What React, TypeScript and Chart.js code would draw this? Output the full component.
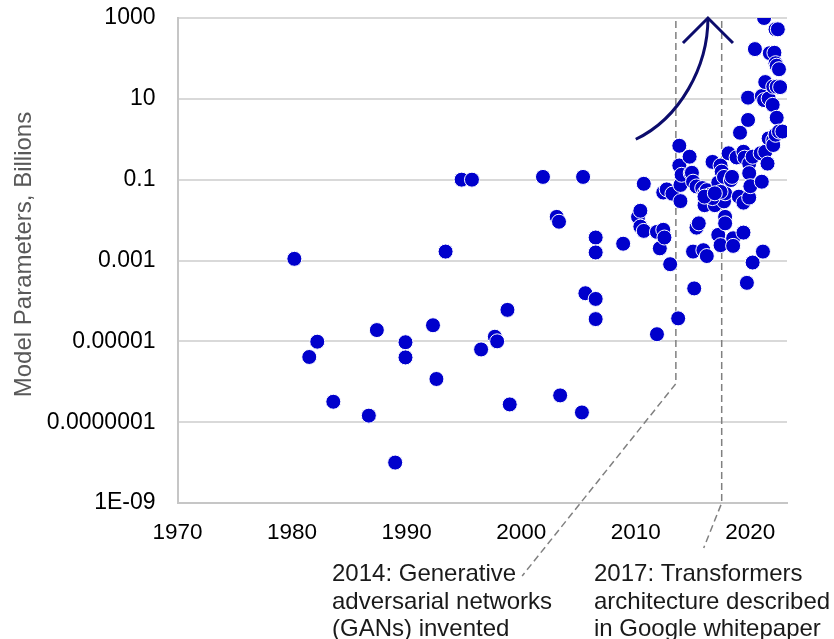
import React, { useEffect, useRef } from 'react';
import { Chart, registerables } from 'chart.js';

Chart.register(...registerables);

// ---- Data ----
const xTickValues = [1970, 1980, 1990, 2000, 2010, 2020];
const yTickValues = [1e-9, 1e-7, 1e-5, 1e-3, 0.1, 10, 1000];
const yTickLabels = ['1E-09', '0.0000001', '0.00001', '0.001', '0.1', '10', '1000'];
const yAxisTitle = 'Model Parameters, Billions';

const modelYears = [
  1980.2, 1981.5, 1982.2, 1983.6, 1986.7, 1987.4, 1989.0, 1989.9, 1989.9, 1992.3,
  1992.6, 1993.4, 1994.8, 1995.7, 1996.5, 1997.7, 1997.9, 1998.8, 1999.0, 2001.9,
  2003.1, 2003.3, 2003.4, 2005.3, 2005.4, 2005.6, 2006.5, 2006.5, 2006.5, 2006.5,
  2008.9, 2010.2, 2010.4, 2010.4, 2010.7, 2010.7, 2011.85, 2011.85, 2012.1, 2012.4,
  2012.5, 2012.4, 2012.7, 2013.0, 2013.2, 2013.7, 2013.8, 2013.8, 2013.9, 2013.9,
  2014.0, 2014.7, 2014.8, 2014.9, 2015.0, 2015.0, 2015.1, 2015.3, 2015.3, 2015.5,
  2015.8, 2015.9, 2016.0, 2016.0, 2016.2, 2016.2, 2016.5, 2016.7, 2016.9, 2017.2,
  2017.2, 2017.4, 2017.4, 2017.5, 2017.7, 2017.7, 2017.8, 2017.8, 2017.8, 2018.1,
  2018.3, 2018.4, 2018.5, 2018.5, 2018.8, 2019.0, 2019.1, 2019.4, 2019.4, 2019.4,
  2019.5, 2019.7, 2019.8, 2019.8, 2019.9, 2019.9, 2019.9, 2020.0, 2020.2, 2020.2,
  2020.4, 2020.9, 2021.0, 2021.0, 2021.1, 2021.2, 2021.2, 2021.3, 2021.3, 2021.5,
  2021.6, 2021.6, 2021.7, 2021.95, 2022.0, 2022.0, 2022.0, 2022.1, 2022.2, 2022.2,
  2022.2, 2022.3, 2022.3, 2022.3, 2022.4, 2022.5, 2022.5, 2022.6, 2022.8, 2016.7,
  2016.0, 2017.4, 2016.9,
];

const modelParams = [
  1.1e-3, 4.1e-6, 9.8e-6, 3.2e-7, 1.45e-7, 1.9e-5, 1e-8, 9.5e-6, 4.0e-6, 2.5e-5,
  1.17e-6, 1.66e-3, 0.1, 0.1, 6.3e-6, 1.3e-5, 1.0e-5, 6.0e-5, 2.75e-7, 0.117,
  0.012, 9.1e-3, 4.6e-7, 1.74e-7, 0.117, 1.55e-4, 3.7e-3, 1.58e-3, 1.12e-4, 3.55e-5,
  2.6e-3, 0.012, 0.017, 6.9e-3, 5.4e-3, 0.079, 5.1e-3, 1.5e-5, 2.0e-3, 5.75e-3,
  3.7e-3, 0.048, 0.0575, 8.1e-4, 0.045, 3.7e-5, 0.69, 0.224, 0.074, 0.0295,
  0.132, 0.37, 0.145, 0.148, 0.089, 1.66e-3, 2.04e-4, 0.068, 6.5e-3, 8.3e-3,
  0.062, 1.8e-3, 0.046, 0.0234, 0.055, 1.29e-3, 0.042, 0.275, 0.0234, 0.085,
  4.3e-3, 0.224, 2.4e-3, 0.158, 0.117, 0.029, 0.046, 0.012, 8.3e-3, 0.45,
  0.098, 0.117, 3.55e-3, 2.3e-3, 0.355, 0.038, 1.45, 0.49, 0.027, 4.9e-3,
  0.35, 2.8e-4, 10.7, 3.0, 0.25, 0.145, 0.036, 0.069, 0.37, 8.9e-4,
  170, 0.45, 11.7, 0.089, 1.66e-3, 1000, 9.3, 26, 0.49, 0.25,
  10.2, 1.05, 135, 7.1, 20, 0.95, 0.72, 138, 525, 76,
  1.29, 66, 20, 3.4, 525, 54, 1.55, 19.5, 1.55, 0.035,
  0.038, 0.05, 0.046,
];

// Annotations (data space where possible)
const ganLineYear = 2013.5;
const ganBendValue = 9e-7;
const transformerLineYear = 2017.5;
const ganNote = ['2014: Generative', 'adversarial networks', '(GANs) invented'];
const transformerNote = ['2017: Transformers', 'architecture described', 'in Google whitepaper'];
const arrowStartYear = 2010.0;
const arrowStartValue = 1.0;
const arrowTipYear = 2016.3;
const arrowTipValue = 1000;

const FONT_FAMILY = '"Liberation Sans", Arial, Helvetica, sans-serif';
const NOTE_FONT = `24px ${FONT_FAMILY}`;
const TITLE_FONT = `24px ${FONT_FAMILY}`;

const notesPlugin = {
  id: 'notes',
  beforeDatasetsDraw(chart: any) {
    const { ctx, chartArea, scales } = chart;
    const x = scales.x;
    const y = scales.y;
    ctx.save();
    ctx.strokeStyle = '#808080';
    ctx.lineWidth = 1.5;
    ctx.setLineDash([7, 4]);
    ctx.font = NOTE_FONT;
    const top = chartArea.top + 3;
    // GAN line
    const gx = x.getPixelForValue(ganLineYear);
    const bendY = y.getPixelForValue(ganBendValue);
    const ganTextW = ctx.measureText(ganNote[0]).width;
    ctx.beginPath();
    ctx.moveTo(gx, top);
    ctx.lineTo(gx, bendY);
    ctx.lineTo(332 + ganTextW + 6, 576);
    ctx.stroke();
    // Transformer line
    const tx = x.getPixelForValue(transformerLineYear);
    ctx.beginPath();
    ctx.moveTo(tx, top);
    ctx.lineTo(tx, chartArea.bottom);
    ctx.lineTo(tx - 18, chartArea.bottom + 45);
    ctx.stroke();
    ctx.restore();
  },
  afterDraw(chart: any) {
    const { ctx, scales, chartArea } = chart;
    const x = scales.x;
    const y = scales.y;
    ctx.save();
    // axis title
    ctx.save();
    ctx.font = TITLE_FONT;
    ctx.fillStyle = '#595959';
    ctx.textAlign = 'center';
    ctx.textBaseline = 'middle';
    ctx.translate(24, (chartArea.top + chartArea.bottom) / 2 - 6);
    ctx.rotate(-Math.PI / 2);
    ctx.fillText(yAxisTitle, 0, 0);
    ctx.restore();
    // text notes
    ctx.font = NOTE_FONT;
    ctx.fillStyle = '#1a1a1a';
    ctx.textAlign = 'left';
    ctx.textBaseline = 'alphabetic';
    ganNote.forEach((t, i) => ctx.fillText(t, 332, 581 + i * 27.5));
    transformerNote.forEach((t, i) => ctx.fillText(t, 594, 581 + i * 27.5));
    // curved arrow
    const sx = x.getPixelForValue(arrowStartYear);
    const sy = y.getPixelForValue(arrowStartValue);
    const ex = x.getPixelForValue(arrowTipYear);
    const ey = y.getPixelForValue(arrowTipValue);
    ctx.strokeStyle = '#0c0c6c';
    ctx.lineWidth = 3;
    ctx.beginPath();
    ctx.moveTo(sx, sy);
    ctx.bezierCurveTo(sx + 44, sy - 21, ex, ey + 49, ex, ey);
    ctx.stroke();
    ctx.beginPath();
    ctx.moveTo(ex - 25, ey + 25);
    ctx.lineTo(ex, ey);
    ctx.lineTo(ex + 25, ey + 25);
    ctx.stroke();
    ctx.restore();
  },
};

export default function App() {
  const canvasRef = useRef<HTMLCanvasElement | null>(null);

  useEffect(() => {
    if (!canvasRef.current) return;
    const points = modelYears.map((yr, i) => ({ x: yr, y: modelParams[i] }));
    const chart = new Chart(canvasRef.current, {
      type: 'scatter',
      data: {
        datasets: [
          {
            data: points,
            backgroundColor: '#0000cc',
            borderColor: '#ffffff',
            borderWidth: 1,
            pointRadius: 7.5,
            pointHoverRadius: 7.5,
          },
        ],
      },
      options: {
        responsive: false,
        animation: false,
        layout: { padding: { left: 0, top: 18, right: 47, bottom: 96 } },
        plugins: {
          legend: { display: false },
          tooltip: { enabled: false },
        },
        scales: {
          x: {
            type: 'linear',
            min: 1970,
            max: 2023.2,
            afterBuildTicks: (s: any) => {
              s.ticks = xTickValues.map((v) => ({ value: v }));
            },
            afterFit: (s: any) => {
              s.height = 40;
              s.paddingLeft = 0;
              s.paddingRight = 0;
            },
            grid: { display: false, drawTicks: false },
            border: { display: true, color: '#c6c6c6', width: 2 },
            ticks: {
              color: '#000000',
              font: { family: FONT_FAMILY, size: 22.5 },
              padding: 16,
              maxRotation: 0,
              autoSkip: false,
              callback: (v: any) => String(v),
            },
          },
          y: {
            type: 'logarithmic',
            min: 1e-9,
            max: 1000,
            afterBuildTicks: (s: any) => {
              s.ticks = yTickValues.map((v) => ({ value: v }));
            },
            afterFit: (s: any) => {
              s.width = 177.5;
              s.paddingTop = 0;
              s.paddingBottom = 0;
            },
            grid: { color: '#d9d9d9', lineWidth: 2, drawTicks: false },
            border: { display: true, color: '#c6c6c6', width: 2 },
            ticks: {
              color: '#000000',
              font: { family: FONT_FAMILY, size: 23 },
              padding: 22,
              autoSkip: false,
              callback: (_v: any, i: number) => yTickLabels[i],
            },
            title: { display: false },
          },
        },
      },
      plugins: [notesPlugin],
    });
    return () => chart.destroy();
  }, []);

  return (
    <div style={{ position: 'absolute', left: 0, top: 0, width: 834, height: 639, background: '#ffffff' }}>
      <canvas ref={canvasRef} width={834} height={639} style={{ display: 'block' }} />
    </div>
  );
}
